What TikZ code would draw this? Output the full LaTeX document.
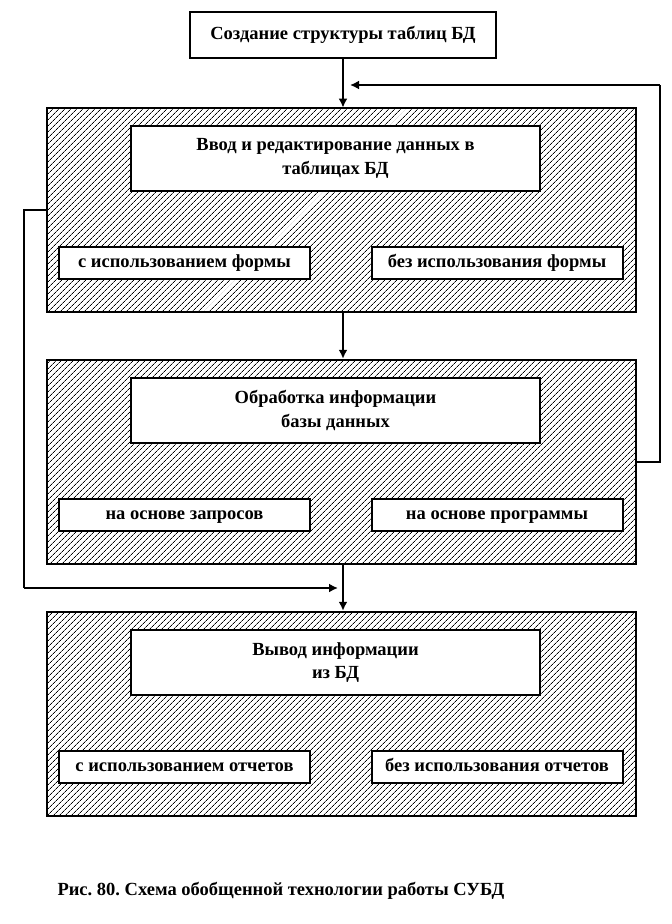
\documentclass[tikz,border=0pt]{standalone}
\usepackage{fontspec}
\setmainfont{Liberation Serif}
\frenchspacing
\usetikzlibrary{patterns.meta,arrows.meta}
\begin{document}
\begin{tikzpicture}[x=1pt,y=1pt,
  txt/.style={font=\fontsize{18.5}{23.5}\selectfont\bfseries, align=center},
  topbox/.style={draw, line width=2pt, fill=white, minimum width=306pt, minimum height=46pt, inner sep=0pt, txt, text height=13pt, text depth=4pt},
  hatchbox/.style={draw, line width=2.5pt, minimum width=589pt, minimum height=204pt, inner sep=0pt,
     pattern={Lines[angle=45,distance=4pt,line width=0.8pt]}},
  innerbox/.style={draw, line width=2pt, fill=white, minimum width=409pt, minimum height=65pt, inner sep=0pt, txt},
  smallbox/.style={draw, line width=2pt, fill=white, minimum width=251pt, minimum height=32pt, inner sep=0pt, txt, text height=13pt, text depth=4pt},
  conn/.style={line width=2pt, -{Latex[length=9pt,width=9pt]}},
  line/.style={line width=2pt}
]
\useasboundingbox (0,0) rectangle (672,-924);
\node[topbox] (top) at (343,-35) {Создание структуры таблиц БД};

\node[hatchbox] (b1) at (341.5,-210) {};
\node[innerbox] (i1) at (335.5,-158.5) {Ввод и редактирование данных в\\таблицах БД};
\node[smallbox] (s1a) at (184.5,-263) {с использованием формы};
\node[smallbox] (s1b) at (497,-263) {без использования формы};

\node[hatchbox] (b2) at (341.5,-462) {};
\node[innerbox] (i2) at (335.5,-410.5) {Обработка информации\\базы данных};
\node[smallbox] (s2a) at (184.5,-515) {на основе запросов};
\node[smallbox] (s2b) at (497,-515) {на основе программы};

\node[hatchbox] (b3) at (341.5,-714) {};
\node[innerbox] (i3) at (335.5,-662.5) {Вывод информации\\из БД};
\node[smallbox] (s3a) at (184.5,-767) {с использованием отчетов};
\node[smallbox] (s3b) at (497,-767) {без использования отчетов};

\node[txt, anchor=west] (cap) at (54,-891) {Рис. 80. Схема обобщенной технологии работы СУБД};

\coordinate (a1) at (343,-58);
\draw[conn] (top.south -| a1) -- (a1 |- b1.north);
\draw[conn] (b1.south -| a1) -- (a1 |- b2.north);
\draw[conn] (b2.south -| a1) -- (a1 |- b3.north);

\coordinate (r1) at (660,-462);
\coordinate (r2) at (660,-85);
\coordinate (rend) at (350,-85);
\draw[line] (b2.east |- r1) -- (r1) -- (r2);
\draw[conn] (r2) -- (rend);

\coordinate (l1) at (24,-210);
\coordinate (l2) at (24,-588);
\coordinate (lend) at (338,-588);
\draw[line] (b1.west |- l1) -- (l1) -- (l2);
\draw[conn] (l2) -- (lend);
\end{tikzpicture}
\end{document}
